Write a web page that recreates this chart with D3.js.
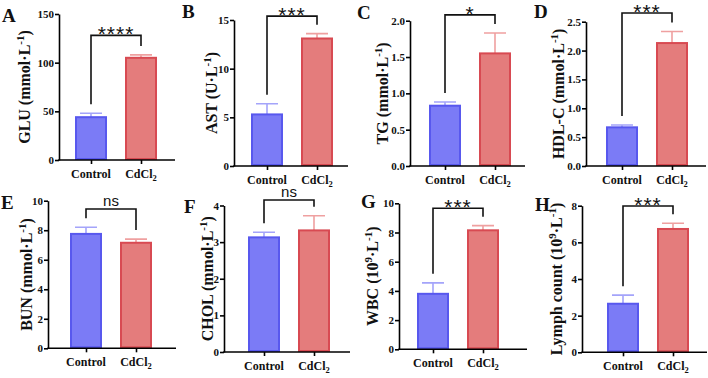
<!DOCTYPE html>
<html>
<head>
<meta charset="utf-8">
<script src="https://cdn.jsdelivr.net/npm/d3@7"></script>
<style>
  body { margin: 0; background: #fff; }
  svg { display: block; }
</style>
</head>
<body>
<div id="chart"></div>
<script>
// Données
const panelIds = ["A", "B", "C", "D", "E", "F", "G", "H"];
const groups = ["Control", "CdCl2"];
const yTitles = ["GLU (mmol·L^-1)", "AST (U·L^-1)", "TG (mmol·L^-1)", "HDL-C (mmol·L^-1)",
                 "BUN (mmol·L^-1)", "CHOL (mmol·L^-1)", "WBC (10^9·L^-1)", "Lymph count (10^9·L^-1)"];
const yMax  = [150, 15, 2, 2.5, 10, 4, 10, 8];
const yStep = [50, 5, 0.5, 0.5, 2, 1, 2, 2];
const yDecimals = [0, 0, 1, 1, 0, 0, 0, 0];
const controlMean = [44, 5.3, 0.83, 0.67, 7.75, 3.13, 3.8, 2.65];
const controlSD   = [4, 1.1, 0.05, 0.04, 0.45, 0.14, 0.75, 0.47];
const cdMean = [105, 13.1, 1.55, 2.13, 7.15, 3.32, 8.15, 6.73];
const cdSD   = [3, 0.5, 0.28, 0.2, 0.25, 0.4, 0.32, 0.31];
const signif = ["****", "***", "*", "***", "ns", "ns", "***", "***"];
const bracketTop = [128, 15.4, 2.08, 2.65, 9.44, 4.15, 9.66, 7.98];

// Mise en page de chaque panneau (pixels)
const layout = [
  { x0: 59,  x1: 175, y0: 160,   y1: 14,    c: 91,  tx: 30,  lx: 2,   ly: 22 },
  { x0: 234, x1: 348, y0: 166,   y1: 20,    c: 267, tx: 217, lx: 182, ly: 18 },
  { x0: 410, x1: 525, y0: 166,   y1: 20.7,  c: 445, tx: 388, lx: 357, ly: 19 },
  { x0: 586, x1: 706, y0: 166,   y1: 21.7,  c: 622, tx: 564, lx: 534, ly: 18 },
  { x0: 48,  x1: 176, y0: 348.3, y1: 200.7, c: 86,  tx: 32,  lx: 1,   ly: 209 },
  { x0: 224, x1: 350, y0: 352,   y1: 205.5, c: 264, tx: 213, lx: 184, ly: 213 },
  { x0: 399, x1: 527, y0: 349.3, y1: 203.3, c: 433, tx: 378, lx: 361, ly: 208 },
  { x0: 582, x1: 707, y0: 352.3, y1: 205.7, c: 623, tx: 562, lx: 535, ly: 211 }
];

const serif = "'Liberation Serif','Times New Roman',serif";
const sans = "'Liberation Sans',Arial,sans-serif";
const cores = {
  Control: { fill: "#7b7bf6", stroke: "#5858ee", err: "#a4a4fa" },
  CdCl2:   { fill: "#e47c7c", stroke: "#d84a52", err: "#efa0a0" }
};

const svg = d3.select("#chart").append("svg")
  .attr("width", 708)
  .attr("height", 378);

panelIds.forEach((id, i) => {
  const L = layout[i];
  const g = svg.append("g");

  const y = d3.scaleLinear().domain([0, yMax[i]]).range([L.y0, L.y1]);
  const x = d3.scalePoint().domain(groups).range([L.c, L.c + 50]);

  const rows = groups.map((grp, k) => ({
    grp,
    mean: k ? cdMean[i] : controlMean[i],
    sd: k ? cdSD[i] : controlSD[i]
  }));

  // barres d'erreur (vers le haut)
  rows.forEach(d => {
    const cx = x(d.grp);
    g.append("path")
      .attr("d", `M${cx},${y(d.mean)}V${y(d.mean + d.sd)}M${cx - 11},${y(d.mean + d.sd)}H${cx + 11}`)
      .attr("fill", "none")
      .attr("stroke", cores[d.grp].err)
      .attr("stroke-width", 1.6);
  });

  // barres
  g.selectAll("rect.bar").data(rows).join("rect")
    .attr("class", "bar")
    .attr("x", d => x(d.grp) - 15)
    .attr("width", 30)
    .attr("y", d => y(d.mean))
    .attr("height", d => L.y0 - y(d.mean) - 1)
    .attr("fill", d => cores[d.grp].fill)
    .attr("stroke", d => cores[d.grp].stroke)
    .attr("stroke-width", 2);

  // axe Y
  const ticks = d3.range(0, yMax[i] + yStep[i] / 2, yStep[i]);
  const yAxis = g.append("g")
    .attr("transform", `translate(${L.x0},0)`)
    .call(d3.axisLeft(y).tickValues(ticks).tickSize(4).tickSizeOuter(0).tickPadding(1)
      .tickFormat(d => d.toFixed(yDecimals[i])));
  yAxis.select(".domain").attr("stroke-width", 1.6);
  yAxis.selectAll(".tick line").attr("stroke-width", 1.6);
  yAxis.selectAll("text").attr("font-family", serif).attr("font-weight", "bold")
    .attr("font-size", 11).attr("fill", "#111");

  // axe X
  const xAxis = g.append("g")
    .attr("transform", `translate(0,${L.y0})`)
    .call(d3.axisBottom(x).tickSize(4).tickSizeOuter(0).tickFormat(""));
  xAxis.select(".domain").attr("d", `M${L.x0 - 0.8},0H${L.x1}`).attr("stroke-width", 1.6);
  xAxis.selectAll(".tick line").attr("stroke-width", 1.6);

  groups.forEach(grp => {
    const t = g.append("text")
      .attr("x", x(grp))
      .attr("y", L.y0 + 18)
      .attr("text-anchor", "middle")
      .attr("font-family", serif)
      .attr("font-weight", "bold")
      .attr("font-size", 12)
      .attr("fill", "#111");
    if (grp === "CdCl2") {
      t.append("tspan").text("CdCl");
      t.append("tspan").attr("font-size", 8.5).attr("dy", 3).text("2");
    } else {
      t.text(grp);
    }
  });

  // titre de l'axe Y avec exposants
  const title = g.append("text")
    .attr("transform", `translate(${L.tx},${(L.y0 + L.y1) / 2}) rotate(-90)`)
    .attr("text-anchor", "middle")
    .attr("font-family", serif)
    .attr("font-weight", "bold")
    .attr("font-size", 16)
    .attr("fill", "#111");
  const parts = yTitles[i].split(/\^([-\d]+)/);
  let up = false;
  parts.forEach((p, k) => {
    const sup = k % 2 === 1;
    const ts = title.append("tspan").text(p);
    if (sup) { ts.attr("font-size", 11).attr("dy", -6); up = true; }
    else if (up) { ts.attr("dy", 6); up = false; }
  });

  // lettre du panneau
  g.append("text")
    .attr("x", L.lx)
    .attr("y", L.ly)
    .attr("font-family", serif)
    .attr("font-weight", "bold")
    .attr("font-size", 19)
    .attr("fill", "#111")
    .text(id);

  // crochet de significativité
  const x1 = x(groups[0]), x2 = x(groups[1]);
  const yb = y(bracketTop[i]);
  const leg1 = y(rows[0].mean + rows[0].sd) - 9;
  const leg2 = y(rows[1].mean + rows[1].sd) - 9;
  g.append("path")
    .attr("d", `M${x1},${leg1}V${yb}H${x2}V${leg2}`)
    .attr("fill", "none")
    .attr("stroke", "#111")
    .attr("stroke-width", 1.6);

  const isNs = signif[i] === "ns";
  g.append("text")
    .attr("x", (x1 + x2) / 2)
    .attr("y", isNs ? yb - 3 : yb + 6)
    .attr("text-anchor", "middle")
    .attr("font-family", sans)
    .attr("font-size", isNs ? 15 : 21)
    .attr("letter-spacing", isNs ? 0 : 1)
    .attr("fill", "#111")
    .text(signif[i]);
});
</script>
</body>
</html>
